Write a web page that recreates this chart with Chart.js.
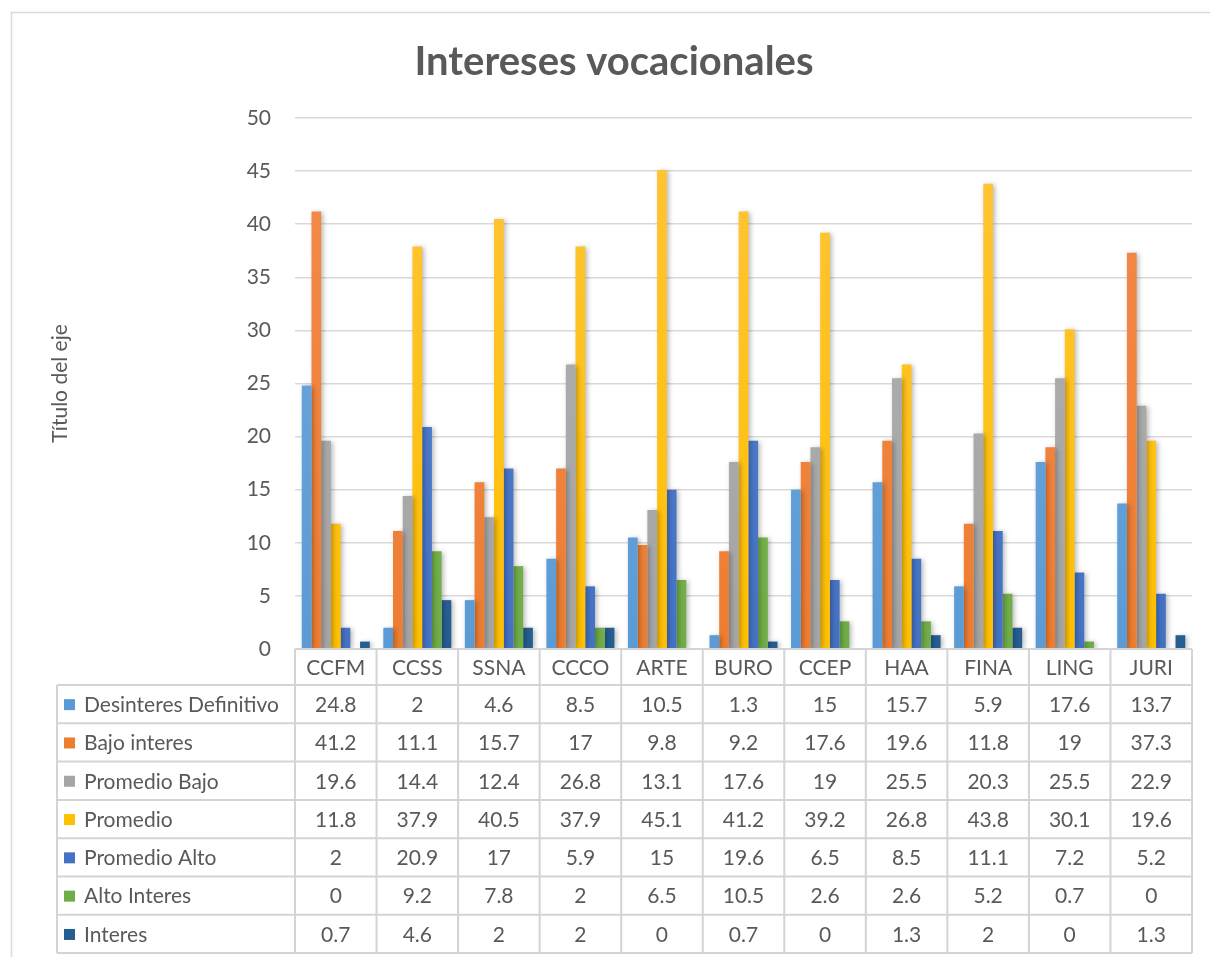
<!DOCTYPE html>
<html>
<head>
<meta charset="utf-8">
<script src="https://cdn.jsdelivr.net/npm/chart.js@4.4.0/dist/chart.umd.min.js"></script>
<style>
  body { margin: 0; background: #fff; }
  #wrap { position: relative; width: 1210px; height: 957px; }
</style>
</head>
<body>
<div id="wrap"><canvas id="interesesChart"></canvas></div>
<script>
const categorias = ['CCFM', 'CCSS', 'SSNA', 'CCCO', 'ARTE', 'BURO', 'CCEP', 'HAA', 'FINA', 'LING', 'JURI'];
const desinteresDefinitivo = [24.8, 2, 4.6, 8.5, 10.5, 1.3, 15, 15.7, 5.9, 17.6, 13.7];
const bajoInteres = [41.2, 11.1, 15.7, 17, 9.8, 9.2, 17.6, 19.6, 11.8, 19, 37.3];
const promedioBajo = [19.6, 14.4, 12.4, 26.8, 13.1, 17.6, 19, 25.5, 20.3, 25.5, 22.9];
const promedio = [11.8, 37.9, 40.5, 37.9, 45.1, 41.2, 39.2, 26.8, 43.8, 30.1, 19.6];
const promedioAlto = [2, 20.9, 17, 5.9, 15, 19.6, 6.5, 8.5, 11.1, 7.2, 5.2];
const altoInteres = [0, 9.2, 7.8, 2, 6.5, 10.5, 2.6, 2.6, 5.2, 0.7, 0];
const interes = [0.7, 4.6, 2, 2, 0, 0.7, 0, 1.3, 2, 0, 1.3];
const yTicks = [0, 5, 10, 15, 20, 25, 30, 35, 40, 45, 50];

const textColor = '#595959';
const lineColor = '#D9D9D9';
const fontName = 'Lato, "Open Sans", sans-serif';

// degradado vertical suave como en Excel
function barFill(base, light) {
  return (ctx) => {
    const area = ctx.chart.chartArea;
    if (!area) return base;
    const g = ctx.chart.ctx.createLinearGradient(0, area.top, 0, area.bottom);
    g.addColorStop(0, light);
    g.addColorStop(1, base);
    return g;
  };
}

const series = [
  { label: 'Desinteres Definitivo', data: desinteresDefinitivo, color: '#5B9BD5', light: '#6FA9E0' },
  { label: 'Bajo interes', data: bajoInteres, color: '#ED7D31', light: '#F48B4C' },
  { label: 'Promedio Bajo', data: promedioBajo, color: '#A5A5A5', light: '#B0B0B0' },
  { label: 'Promedio', data: promedio, color: '#FFC000', light: '#FFC43A' },
  { label: 'Promedio Alto', data: promedioAlto, color: '#4472C4', light: '#5582D2' },
  { label: 'Alto Interes', data: altoInteres, color: '#70AD47', light: '#7EBB57' },
  { label: 'Interes', data: interes, color: '#255E91', light: '#2F6BA2' }
];

// sombra de las barras
const barShadow = {
  id: 'barShadow',
  beforeDatasetsDraw(chart) {
    const c = chart.ctx;
    c.save();
    c.shadowColor = 'rgba(0,0,0,0.28)';
    c.shadowBlur = 5;
    c.shadowOffsetX = 2;
    c.shadowOffsetY = 1;
  },
  afterDatasetsDraw(chart) {
    chart.ctx.restore();
  }
};

// tabla de datos bajo el grafico + borde exterior
const dataTable = {
  id: 'dataTable',
  afterDraw(chart) {
    const c = chart.ctx;
    const xs = chart.scales.x;
    const area = chart.chartArea;
    const colW = (area.right - area.left) / categorias.length;
    const headTop = area.bottom;
    const headH = 36;
    const rowH = 38.3;
    const tableLeft = 57;
    const bodyTop = headTop + headH;
    const bottom = bodyTop + rowH * series.length;

    c.save();
    // borde del area del grafico
    c.strokeStyle = lineColor;
    c.lineWidth = 1.5;
    c.strokeRect(11.5, 12.5, 1400, 1200);

    c.strokeStyle = '#D4D4D4';
    c.lineWidth = 2;
    c.beginPath();
    // lineas horizontales
    c.moveTo(area.left, headTop); c.lineTo(area.right, headTop);
    for (let r = 0; r <= series.length; r++) {
      const y = bodyTop + r * rowH;
      c.moveTo(tableLeft, y); c.lineTo(area.right, y);
    }
    // lineas verticales
    c.moveTo(tableLeft, bodyTop); c.lineTo(tableLeft, bottom);
    for (let i = 0; i <= categorias.length; i++) {
      const x = i < categorias.length ? xs.getPixelForValue(i) - colW / 2 : xs.getPixelForValue(i - 1) + colW / 2;
      c.moveTo(x, headTop); c.lineTo(x, bottom);
    }
    c.stroke();

    c.font = '21px ' + fontName;
    c.fillStyle = textColor;
    c.textBaseline = 'middle';
    c.textAlign = 'center';
    categorias.forEach((cat, i) => {
      c.fillText(cat, xs.getPixelForValue(i), headTop + headH / 2 + 1);
    });

    series.forEach((s, r) => {
      const yMid = bodyTop + r * rowH + rowH / 2 + 1;
      c.fillStyle = s.color;
      c.fillRect(64, yMid - 6, 11, 11);
      c.fillStyle = textColor;
      c.textAlign = 'left';
      c.fillText(s.label, 84, yMid);
      c.textAlign = 'center';
      s.data.forEach((v, i) => {
        c.fillText(String(v), xs.getPixelForValue(i), yMid);
      });
    });
    c.restore();
  }
};

function renderInteresesChart() {
  const canvas = document.getElementById('interesesChart');
  new Chart(canvas, {
    type: 'bar',
    data: {
      labels: categorias,
      datasets: series.map(s => ({
        label: s.label,
        data: s.data,
        backgroundColor: barFill(s.color, s.light),
        borderWidth: 0,
        barPercentage: 1,
        categoryPercentage: 0.834
      }))
    },
    options: {
      responsive: true,
      maintainAspectRatio: false,
      animation: false,
      layout: { padding: { top: 38, right: 18, bottom: 0, left: 36 } },
      plugins: {
        legend: { display: false },
        tooltip: { enabled: false },
        title: {
          display: true,
          text: 'Intereses vocacionales',
          color: textColor,
          font: { family: fontName, size: 40, weight: 'bold' },
          padding: { top: 0, bottom: 32 }
        }
      },
      scales: {
        x: {
          grid: { display: false },
          border: { display: false },
          ticks: { display: false },
          afterFit(scale) { scale.height = 308; }
        },
        y: {
          min: 0,
          max: 50,
          afterBuildTicks(scale) { scale.ticks = yTicks.map(v => ({ value: v })); },
          grid: { color: lineColor, lineWidth: 1.5, drawTicks: false },
          border: { display: false },
          ticks: {
            color: textColor,
            padding: 24,
            font: { family: fontName, size: 21 }
          },
          title: {
            display: true,
            text: 'Título del eje',
            color: textColor,
            font: { family: fontName, size: 21 },
            padding: { top: 12, bottom: 0 }
          },
          afterFit(scale) { scale.width = 259; }
        }
      }
    },
    plugins: [barShadow, dataTable]
  });
}

renderInteresesChart();
</script>
</body>
</html>
